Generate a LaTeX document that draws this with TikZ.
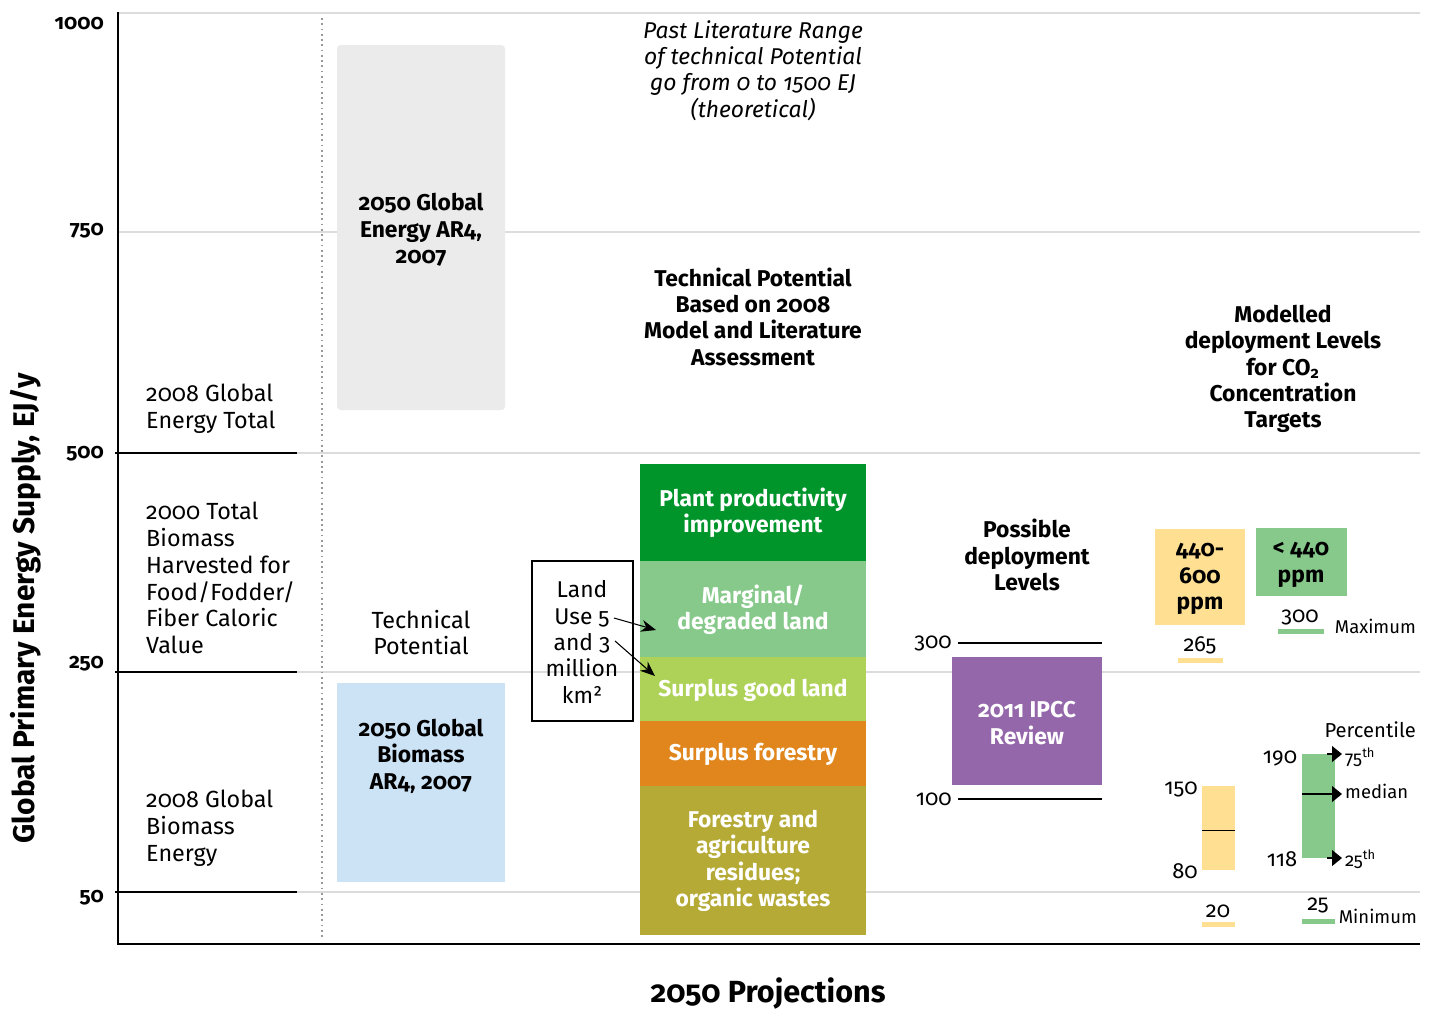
\documentclass[tikz,border=0pt]{standalone}
\usepackage{fontspec}
\setmainfont{Fira Sans}[Numbers=OldStyle]
\usepackage{tikz}
\usetikzlibrary{arrows.meta}

\definecolor{gridgray}{HTML}{DCDCDC}
\definecolor{dotgray}{HTML}{9A9A9A}
\definecolor{boxgray}{HTML}{EBEBEB}
\definecolor{boxblue}{HTML}{CCE2F5}
\definecolor{darkgreen}{HTML}{00952B}
\definecolor{lightgreen}{HTML}{86C98A}
\definecolor{yellowgreen}{HTML}{AED257}
\definecolor{orangebar}{HTML}{E0861D}
\definecolor{olivebar}{HTML}{B4AA35}
\definecolor{purplebox}{HTML}{9467AA}
\definecolor{yellowbox}{HTML}{FFE093}

\begin{document}
\begin{tikzpicture}[x=0.02cm, y=-0.02cm,
  gridline/.style={draw=gridgray, line width=1.5pt},
  refline/.style={draw=black, line width=1.6pt},
  headtext/.style={font=\bfseries\fontsize{13}{15}\selectfont, align=center},
  bartext/.style={headtext, text=white},
  plaintext/.style={font=\fontsize{13.3}{15.3}\selectfont, align=left, anchor=west},
  numtext/.style={font=\fontsize{12.5}{15}\selectfont},
  sidetext/.style={font=\fontsize{10.5}{13}\selectfont},
  ticktext/.style={font=\bfseries\fontsize{12}{14}\selectfont, anchor=east},
  tipstealth/.style={-{Stealth[length=0.3cm, width=0.24cm]}, line width=0.6pt},
  tiptri/.style={-{Triangle[length=0.2cm, width=0.32cm]}, line width=0.6pt}]

\useasboundingbox (0,0) rectangle (1433,1009);

% grid lines and axis ticks
\foreach \gy/\ly/\lab in {13/24/1000, 232/231/750, 453/454/500, 672/664/250, 892/898/50}{
  \draw[gridline] (118,\gy) -- (1420,\gy);
  \node[ticktext] (tick\lab) at (110,\ly) {\lab};
}

\draw[refline] (115,453) -- (297,453);
\draw[refline] (115,672) -- (297,672);
\draw[refline] (115,892) -- (297,892);

\draw[dotgray, line width=1pt, dotted] (322,18) -- (322,940);

\draw[black, line width=1.6pt] (118,12) -- (118,944) -- (1420,944);

\node(ytitle)[rotate=90, font=\bfseries\fontsize{17}{20}\selectfont] at (26,608) {Global Primary Energy Supply, EJ/y};
\node(xtitle)[font=\bfseries\fontsize{17.4}{20}\selectfont] at (768,993) {2050 Projections};

% left column
\node(globaltotal)[plaintext] at (140,408.5) {2008 Global\\Energy Total};
\node(harvested)[plaintext] at (140,578) {2000 Total\\Biomass\\Harvested for\\Food/Fodder/\\Fiber Caloric\\Value};
\node(biomass2008)[plaintext] at (140,828.5) {2008 Global\\Biomass\\Energy};

% AR4 boxes
\fill[boxgray, rounded corners=2pt] (337,45) rectangle (505,410);
\node(ar4energy)[headtext] at (421,230) {2050 Global\\Energy AR4,\\2007};
\node(techpot)[font=\fontsize{13.3}{15.3}\selectfont, align=center] at (421,632.5) {Technical\\Potential};
\fill[boxblue] (337,683) rectangle (505,882);
\node(ar4biomass)[headtext] at (421,756) {2050 Global\\Biomass\\AR4, 2007};

% technical potential column
\node(pastlit)[font=\itshape\fontsize{13}{15}\selectfont, align=center] at (753,70.5) {Past Literature Range\\of technical Potential\\go from 0 to 1500 EJ\\(theoretical)};
\node(techbased)[headtext] at (753,316.5) {Technical Potential\\Based on 2008\\Model and Literature\\Assessment};

\fill[darkgreen] (640,464) rectangle (866,561);
\fill[lightgreen] (640,561) rectangle (866,657);
\fill[yellowgreen] (640,657) rectangle (866,721);
\fill[orangebar] (640,721) rectangle (866,786);
\fill[olivebar] (640,786) rectangle (866,935);
\node(plant)[bartext] at (753,513) {Plant productivity\\improvement};
\node(marginal)[bartext] at (753,610) {Marginal/\\degraded land};
\node(goodland)[bartext] at (753,690) {Surplus good land};
\node(forestry)[bartext] at (753,754) {Surplus forestry};
\node(residues)[bartext] at (753,861) {Forestry and\\agriculture\\residues;\\organic wastes};

\draw[black, line width=0.7pt] (532,561) rectangle (633,721);
\node(landuse)[font=\fontsize{13}{15}\selectfont, align=center] at (582,642) {Land\\Use 5\\and 3\\million\\km²};
\coordinate (five) at (614,618);
\coordinate (margtip) at (656,630);
\coordinate (three) at (615,641);
\coordinate (goodtip) at (655,676);
\draw[tipstealth] (five) -- (margtip);
\draw[tipstealth] (three) -- (goodtip);

% possible deployment
\node(possible)[headtext] at (1027,555) {Possible\\deployment\\Levels};
\coordinate (ipcctop) at (958,643);
\coordinate (ipccbot) at (958,799);
\draw[line width=0.7pt] (ipcctop) -- (1102,643);
\draw[line width=0.7pt] (ipccbot) -- (1102,799);
\node(lab300)[numtext, anchor=east] at (ipcctop) {300};
\node(lab100)[numtext, anchor=east] at (ipccbot) {100};
\fill[purplebox] (952,657) rectangle (1102,785);
\node(ipcc)[bartext] at (1027,723) {2011 IPCC\\Review};

% modelled deployment
\node(modelled)[headtext] at (1283,369) {Modelled\\deployment Levels\\for CO\textsubscript{2}\\Concentration\\Targets};
\fill[yellowbox] (1155,529) rectangle (1245,625);
\node(ppmhigh)[headtext] at (1200,579) {440-\\600\\ppm};
\fill[lightgreen] (1256,528) rectangle (1347,596);
\node(ppmlow)[headtext] at (1301,565) {< 440\\ppm};

\node(max265)[numtext] at (1200,645) {265};
\fill[yellowbox] (1178,658) rectangle (1223,663);
\node(max300)[numtext] at (1300,617) {300};
\fill[lightgreen] (1278,629) rectangle (1324,634);
\node(maximum)[sidetext, anchor=east] at (1422,626) {Maximum};

\node(percentile)[sidetext, font=\fontsize{11.5}{13}\selectfont, anchor=east] at (1422,730) {Percentile};

\fill[yellowbox] (1202,786) rectangle (1235,870);
\draw[line width=0.5pt] (1202,830) -- (1235,830);
\node(y150)[numtext] at (1181,789) {150};
\node(y80)[numtext] at (1185,871) {80};

\fill[lightgreen] (1302,754) rectangle (1335,858);
\node(g190)[numtext] at (1280,758) {190};
\node(g118)[numtext] at (1282,859) {118};
\coordinate (p75) at (1342,754);
\coordinate (pmed) at (1342,794);
\coordinate (p25) at (1342,858);
\draw[tiptri] (1327,754) -- (p75);
\draw[tiptri] (1302,794) -- (pmed);
\draw[tiptri] (1327,858) -- (p25);
\node(lab75)[sidetext, anchor=west] at (1339,757) {75\textsuperscript{th}};
\node(labmed)[sidetext, anchor=west] at (1339,791) {median};
\node(lab25)[sidetext, anchor=west] at (1339,859) {25\textsuperscript{th}};

\node(min20)[numtext] at (1218,911) {20};
\fill[yellowbox] (1202,922) rectangle (1235,927);
\node(min25)[numtext] at (1318,905) {25};
\fill[lightgreen] (1302,919) rectangle (1335,924);
\node(minimum)[sidetext, anchor=east] at (1423,916) {Minimum};

\end{tikzpicture}
\end{document}
